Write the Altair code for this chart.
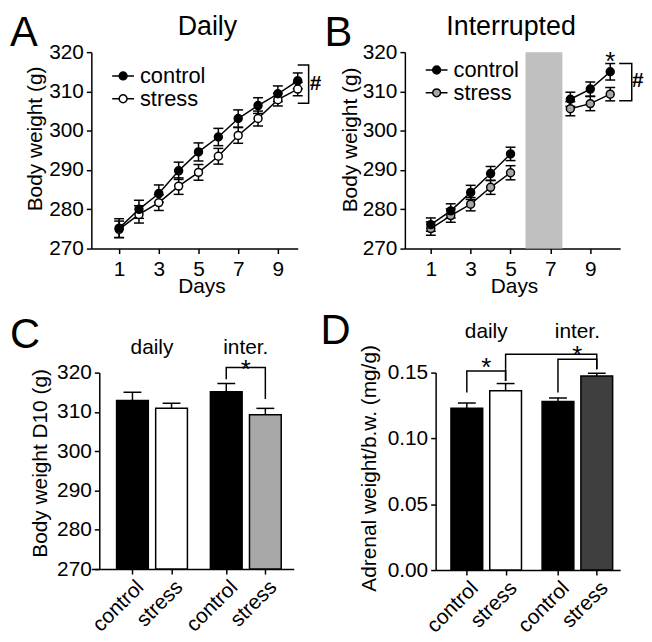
import json
import altair as alt
import pandas as pd

FONT = "Liberation Sans"

# ---------------- data ----------------
DAYS_A = [1, 2, 3, 4, 5, 6, 7, 8, 9, 10]
A_CONTROL = [275.2, 280.0, 284.0, 289.8, 294.6, 298.4, 303.1, 306.4, 309.4, 312.7]
A_CONTROL_SEM = [2.4, 2.3, 2.2, 2.2, 2.3, 2.2, 2.2, 2.0, 2.0, 2.0]
A_STRESS = [274.9, 278.7, 281.7, 285.9, 289.4, 293.5, 298.8, 303.1, 307.9, 310.6]
A_STRESS_SEM = [2.1, 2.2, 2.0, 2.1, 2.0, 2.0, 2.0, 1.9, 1.6, 1.7]

DAYS_B = [1, 2, 3, 4, 5, 8, 9, 10]
B_CONTROL = [276.1, 279.6, 284.3, 289.1, 294.1, 308.0, 310.6, 315.0]
B_CONTROL_SEM = [1.7, 1.8, 1.8, 1.8, 1.7, 1.8, 1.8, 2.1]
B_STRESS = [275.1, 278.4, 281.3, 285.6, 289.3, 305.6, 306.9, 309.3]
B_STRESS_SEM = [1.7, 1.7, 1.7, 1.8, 1.8, 1.8, 1.8, 1.7]
B_PAUSE = [5.75, 7.6]

GROUPS = ["daily", "daily", "inter.", "inter."]
CONDS = ["control", "stress", "control", "stress"]
C_MEANS = [312.9, 310.9, 315.1, 309.3]
C_SEMS = [2.1, 1.3, 2.1, 1.6]
D_MEANS = [0.1229, 0.1362, 0.1281, 0.1475]
D_SEMS = [0.0040, 0.0055, 0.0026, 0.0020]

Y_BODY = [270, 280, 290, 300, 310, 320]
Y_ADRENAL = [0.0, 0.05, 0.10, 0.15]
X_DAY_TICKS = [1, 3, 5, 7, 9]

# significance annotations (data units)
A_BRACKET = [10.0, 10.55, 307.0, 316.7]      # x_left, x_right, y_low, y_high
A_HASH = [10.9, 312.0]
B_BRACKET = [10.45, 11.08, 307.6, 317.1]
B_HASH = [11.38, 312.6]
B_STAR_Y = 319.2
C_BRACKETS = [[2, 3, 318.3, 321.3, 313.3]]   # left bar, right bar, left foot, top, right foot
C_STARS = [[0, 322.3]]                       # bracket index, y
D_BRACKETS = [[0, 1, 0.1349, 0.1513, 0.1437],
              [1, 3, 0.1437, 0.1639, 0.1526],
              [2, 3, 0.1349, 0.1601, 0.1526]]
D_STARS = [[0, 0.1588], [2, 0.1679]]

LEGEND_SYMBOL = ("M-1,0L-0.36,0M0.36,0L1,0M0.36,0A0.36,0.36,0,1,1,-0.36,0"
                 "A0.36,0.36,0,1,1,0.36,0Z")


def text_layer(txt, x, y, size, align="left", baseline="alphabetic", weight="normal"):
    return alt.Chart(alt.Data(values=[{"t": txt}])).mark_text(
        font=FONT, fontSize=size, align=align, baseline=baseline,
        fontWeight=weight, color="black"
    ).encode(text="t:N", x=alt.value(x), y=alt.value(y))


def line_panel(days, ctrl, ctrl_sem, strs, strs_sem, stress_fill, width, xdom,
               legend_x, legend_y, bracket, hash_xy, letter, letter_x, letter_y,
               title, title_x, xtitle_x, ytitle_x, ytitle_y, pause=None, star_y=None):
    rows = []
    for grp, vals, sems in (("stress", strs, strs_sem), ("control", ctrl, ctrl_sem)):
        seg = 0
        for i, (d, v, s) in enumerate(zip(days, vals, sems)):
            if i and d - days[i - 1] > 1:
                seg += 1
            rows.append({"day": d, "group": grp, "mean": v, "lo": v - s,
                         "hi": v + s, "line": f"{grp}-{seg}"})
    df = pd.DataFrame(rows)
    xs = alt.Scale(domain=xdom, nice=False, zero=False)
    ys = alt.Scale(domain=[Y_BODY[0], Y_BODY[-1]], nice=False, zero=False)
    x_axis = alt.Axis(values=X_DAY_TICKS, title="Days", labelPadding=5, labelFlush=False,
                      titleX=xtitle_x, titleY=27.5, titleBaseline="top", titleAlign="center")
    y_axis = alt.Axis(values=Y_BODY, title="Body weight (g)", labelPadding=3,
                      titleX=ytitle_x, titleY=ytitle_y, titleAngle=270,
                      titleAlign="center", titleBaseline="alphabetic")

    def X(f):
        return alt.X(f, scale=xs, axis=x_axis)

    def Y(f):
        return alt.Y(f, scale=ys, axis=y_axis)

    base = alt.Chart(df)
    layers = []
    if pause:
        pdf = pd.DataFrame({"x": [pause[0]], "x2": [pause[1]],
                            "y": [Y_BODY[0]], "y2": [Y_BODY[-1]]})
        layers.append(alt.Chart(pdf).mark_rect(color="#c0c0c0").encode(
            x=X("x:Q"), x2="x2:Q", y=Y("y:Q"), y2="y2:Q"))
    layers.append(base.mark_line(color="black", strokeWidth=1.5).encode(
        x=X("day:Q"), y=Y("mean:Q"), detail="line:N"))
    layers.append(base.mark_rule(color="black", strokeWidth=1.5).encode(
        x=X("day:Q"), y=Y("lo:Q"), y2="hi:Q"))
    for f in ("lo:Q", "hi:Q"):
        layers.append(base.mark_tick(color="black", orient="horizontal", size=10,
                                     thickness=1.5, opacity=1).encode(x=X("day:Q"), y=Y(f)))
    layers.append(base.mark_point(filled=True, shape="circle", size=64, stroke="black",
                                  strokeWidth=1.5, opacity=1).encode(
        x=X("day:Q"), y=Y("mean:Q"),
        fill=alt.Fill("group:N",
                      scale=alt.Scale(domain=["control", "stress"], range=["black", stress_fill]),
                      legend=alt.Legend(title=None, orient="none", legendX=legend_x, legendY=legend_y,
                                        symbolType=LEGEND_SYMBOL, symbolSize=484,
                                        symbolStrokeWidth=1.5, symbolStrokeColor="black",
                                        symbolOpacity=1, labelFont=FONT, labelFontSize=22,
                                        labelColor="black", labelOffset=5, rowPadding=0,
                                        padding=0))))
    xl, xr, yl, yh = bracket
    bdf = pd.DataFrame({"x": [xl, xr, xr, xl], "y": [yh, yh, yl, yl], "o": [0, 1, 2, 3]})
    layers.append(alt.Chart(bdf).mark_line(color="black", strokeWidth=1.5).encode(
        x=X("x:Q"), y=Y("y:Q"), order="o:Q"))
    hdf = pd.DataFrame({"x": [hash_xy[0]], "y": [hash_xy[1]], "t": ["#"]})
    layers.append(alt.Chart(hdf).mark_text(font=FONT, fontSize=21, fontWeight="bold",
                                           align="center", baseline="middle", color="black").encode(
        x=X("x:Q"), y=Y("y:Q"), text="t:N"))
    if star_y is not None:
        sdf = pd.DataFrame({"x": [days[-1]], "y": [star_y], "t": ["*"]})
        layers.append(alt.Chart(sdf).mark_text(font=FONT, fontSize=26, align="center",
                                               baseline="middle", dy=7, color="black").encode(
            x=X("x:Q"), y=Y("y:Q"), text="t:N"))
    layers.append(text_layer(title, title_x, -17, 27, align="center"))
    layers.append(text_layer(letter, letter_x, letter_y, 42))
    return alt.layer(*layers).properties(width=width, height=198)


def bar_panel(means, sems, fills, step, xdom, width, height, ydom, yvals, yfmt,
              ytitle, ytitle_x, ytitle_y, yoffset, brackets, stars, glabel_y,
              letter, letter_x, letter_y):
    gnames = list(dict.fromkeys(GROUPS))
    cnames = list(dict.fromkeys(CONDS))
    pos = [gnames.index(g) * step + cnames.index(c) for g, c in zip(GROUPS, CONDS)]
    keys = [f"{g} {c}" for g, c in zip(GROUPS, CONDS)]
    df = pd.DataFrame({"pos": pos, "mean": means,
                       "hi": [m + s for m, s in zip(means, sems)],
                       "base": [ydom[0]] * len(means), "key": keys})
    xs = alt.Scale(domain=xdom, nice=False, zero=False)
    ys = alt.Scale(domain=ydom, nice=False, zero=False)
    label_expr = f"{json.dumps(CONDS)}[indexof({json.dumps(pos)}, datum.value)]"
    x_axis = alt.Axis(values=pos, labelExpr=label_expr, labelAngle=315, labelAlign="right",
                      labelBaseline="top", labelPadding=2, labelFlush=False,
                      labelOverlap=False, title=None)
    y_axis = alt.Axis(values=yvals, format=yfmt, title=ytitle, offset=yoffset, labelPadding=3,
                      labelOverlap=False, titleX=ytitle_x, titleY=ytitle_y, titleAngle=270,
                      titleAlign="center", titleBaseline="alphabetic")

    def X(f):
        return alt.X(f, scale=xs, axis=x_axis)

    def Y(f):
        return alt.Y(f, scale=ys, axis=y_axis)

    base = alt.Chart(df)
    layers = [
        base.mark_bar(size=32, stroke="black", strokeWidth=1.5).encode(
            x=X("pos:Q"), y=Y("mean:Q"), y2="base:Q",
            fill=alt.Fill("key:N", scale=alt.Scale(domain=keys, range=fills), legend=None)),
        base.mark_rule(color="black", strokeWidth=1.5).encode(
            x=X("pos:Q"), y=Y("mean:Q"), y2="hi:Q"),
        base.mark_tick(color="black", orient="horizontal", size=18, thickness=1.5,
                       opacity=1).encode(x=X("pos:Q"), y=Y("hi:Q")),
    ]
    brows = []
    for k, (il, ir, yl, yt, yr) in enumerate(brackets):
        for o, (xx, yy) in enumerate([(pos[il], yl), (pos[il], yt), (pos[ir], yt), (pos[ir], yr)]):
            brows.append({"b": k, "o": o, "x": xx, "y": yy})
    layers.append(alt.Chart(pd.DataFrame(brows)).mark_line(color="black", strokeWidth=1.5).encode(
        x=X("x:Q"), y=Y("y:Q"), order="o:Q", detail="b:N"))
    srows = [{"x": (pos[brackets[bi][0]] + pos[brackets[bi][1]]) / 2, "y": yy, "t": "*"}
             for bi, yy in stars]
    layers.append(alt.Chart(pd.DataFrame(srows)).mark_text(
        font=FONT, fontSize=26, align="center", baseline="middle", dy=7, color="black").encode(
        x=X("x:Q"), y=Y("y:Q"), text="t:N"))
    gdf = pd.DataFrame({"g": gnames,
                        "x": [sum(p for p, g in zip(pos, GROUPS) if g == n) /
                              GROUPS.count(n) for n in gnames]})
    layers.append(alt.Chart(gdf).mark_text(font=FONT, fontSize=21, align="center",
                                           baseline="alphabetic", color="black").encode(
        x=X("x:Q"), y=alt.value(glabel_y), text="g:N"))
    layers.append(text_layer(letter, letter_x, letter_y, 42))
    return alt.layer(*layers).properties(width=width, height=height)


panel_a = line_panel(DAYS_A, A_CONTROL, A_CONTROL_SEM, A_STRESS, A_STRESS_SEM, "white",
                     208, [-0.4, 10], 20, 12, A_BRACKET, A_HASH, "A", -82, -6,
                     "Daily", 117, 111, -50, 87)
panel_b = line_panel(DAYS_B, B_CONTROL, B_CONTROL_SEM, B_STRESS, B_STRESS_SEM, "#a6a6a6",
                     217, [-0.3, 10.5], 20, 6, B_BRACKET, B_HASH, "B", -81, -6,
                     "Interrupted", 107, 110, -49, 88, pause=B_PAUSE, star_y=B_STAR_Y)
panel_c = bar_panel(C_MEANS, C_SEMS, ["black", "white", "black", "#a8a8a8"], 2.40,
                    [-0.925, 4.0], 204, 198, [Y_BODY[0], Y_BODY[-1]], Y_BODY, "d",
                    "Body weight D10 (g)", -53, 91, -8, C_BRACKETS, C_STARS, -19,
                    "C", -82, -25)
panel_d = bar_panel(D_MEANS, D_SEMS, ["black", "white", "black", "#3f3f3f"], 2.35,
                    [-0.676, 3.826], 186, 199, [Y_ADRENAL[0], Y_ADRENAL[-1]], Y_ADRENAL, ".2f",
                    "Adrenal weight/b.w. (mg/g)", -61, 96, 0, D_BRACKETS, D_STARS, -35,
                    "D", -116, -29)

row1 = alt.hconcat(panel_a, panel_b, spacing=108, bounds="flush").resolve_scale(
    fill="independent").resolve_legend(fill="independent")
row2 = alt.hconcat(panel_c, panel_d, spacing=143, bounds="flush").resolve_scale(
    fill="independent").resolve_legend(fill="independent")

chart = alt.vconcat(
    row1, row2, spacing=13,
    padding={"left": 2, "top": 2, "right": 0, "bottom": 0}
).resolve_scale(fill="independent").resolve_legend(fill="independent").configure(
    font=FONT, background="white"
).configure_view(stroke=None).configure_axis(
    domainColor="black", domainWidth=1.5, tickColor="black", tickWidth=1.5, tickSize=5,
    labelFont=FONT, labelFontSize=21, labelColor="black", titleFont=FONT,
    titleFontSize=21, titleFontWeight="normal", titleColor="black", grid=False
)

chart.save("out.html", embed_options={"renderer": "svg", "actions": False})
